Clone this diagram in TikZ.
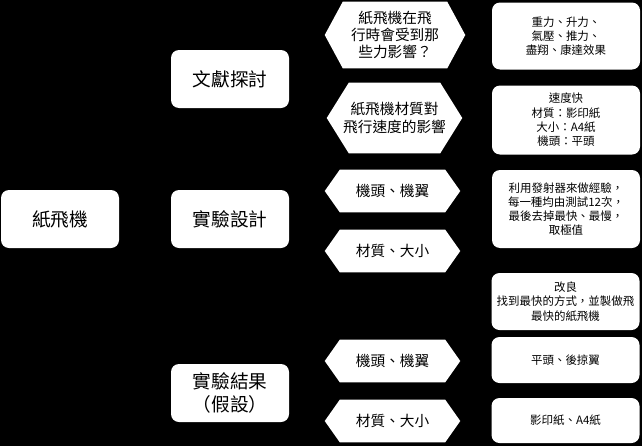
\documentclass[tikz,border=0pt]{standalone}
\usepackage{fontspec}
\setmainfont{Noto Sans CJK TC}

\pgfdeclarelayer{back}
\pgfsetlayers{back,main}

\begin{document}
\begin{tikzpicture}[x=0.75pt, y=-0.75pt,
    mainbox/.style={rectangle, rounded corners=6pt, fill=white, minimum width=88.5pt,
      minimum height=43.5pt, inner sep=0pt, align=center,
      font=\fontsize{14}{17.5}\selectfont},
    hexbox/.style={rectangle, minimum width=101.25pt, minimum height=31.5pt,
      inner sep=0pt, align=center, font=\fontsize{11}{13}\selectfont},
    notebox/.style={rectangle, rounded corners=6pt, fill=white, minimum width=111pt,
      inner sep=0pt, align=center, font=\fontsize{8.6}{10.7}\selectfont}]
  \useasboundingbox (0,0) rectangle (642,446);

  % =====================================
  %            左欄:主題與三大項
  % =====================================
  \node[mainbox] (plane) at (60,219) {紙飛機};
  \node[mainbox] (lit) at (230,79) {文獻探討};
  \node[mainbox] (design) at (230,219) {實驗設計};
  \node[mainbox] (result) at (230,393) {實驗結果\\（假設）};

  % =====================================
  %            中欄:六角形問題
  % =====================================
  \node[hexbox, minimum width=105pt, minimum height=49.5pt] (litq1) at (395,35)
    {紙飛機在飛\\行時會受到那\\些力影響？};
  \node[hexbox, minimum height=52.5pt] (litq2) at (394.5,118)
    {紙飛機材質對\\飛行速度的影響};
  \node[hexbox] (desq1) at (392.5,191) {機頭、機翼};
  \node[hexbox] (desq2) at (392.5,251) {材質、大小};
  \node[hexbox] (resq1) at (392.5,361) {機頭、機翼};
  \node[hexbox] (resq2) at (392.5,421) {材質、大小};

  % =====================================
  %            右欄:說明方塊
  % =====================================
  \node[notebox, minimum height=50.25pt] (litn1) at (566,36)
    {重力、升力、\\氣壓、推力、\\盡翔、康達效果};
  \node[notebox, minimum height=51.75pt] (litn2) at (566,120)
    {速度快\\材質：影印紙\\大小：A4紙\\機頭：平頭};
  \node[notebox, minimum height=58.5pt] (desn1) at (566,209)
    {利用發射器來做經驗，\\每一種均由測試12次，\\最後去掉最快、最慢，\\取極值};
  \node[notebox, minimum height=42.75pt] (resn0) at (565.5,301.5)
    {改良\\找到最快的方式，並製做飛\\最快的紙飛機};
  \node[notebox, minimum height=34.5pt] (resn1) at (565.5,360) {平頭、後掠翼};
  \node[notebox, minimum height=33.75pt] (resn2) at (565.5,420.5) {影印紙、A4紙};

  % ----------- 背景與六角形底色 -----------
  \begin{pgfonlayer}{back}
    \fill[black] (0,0) rectangle (642,446);
    \foreach \hex/\cut in {litq1/13.5pt, litq2/16.5pt, desq1/11.25pt,
                           desq2/11.25pt, resq1/11.25pt, resq2/11.25pt}
      \fill[white] (\hex.west) -- ([xshift=\cut]\hex.north west)
        -- ([xshift=-\cut]\hex.north east) -- (\hex.east)
        -- ([xshift=-\cut]\hex.south east) -- ([xshift=\cut]\hex.south west) -- cycle;
  \end{pgfonlayer}
\end{tikzpicture}
\end{document}
